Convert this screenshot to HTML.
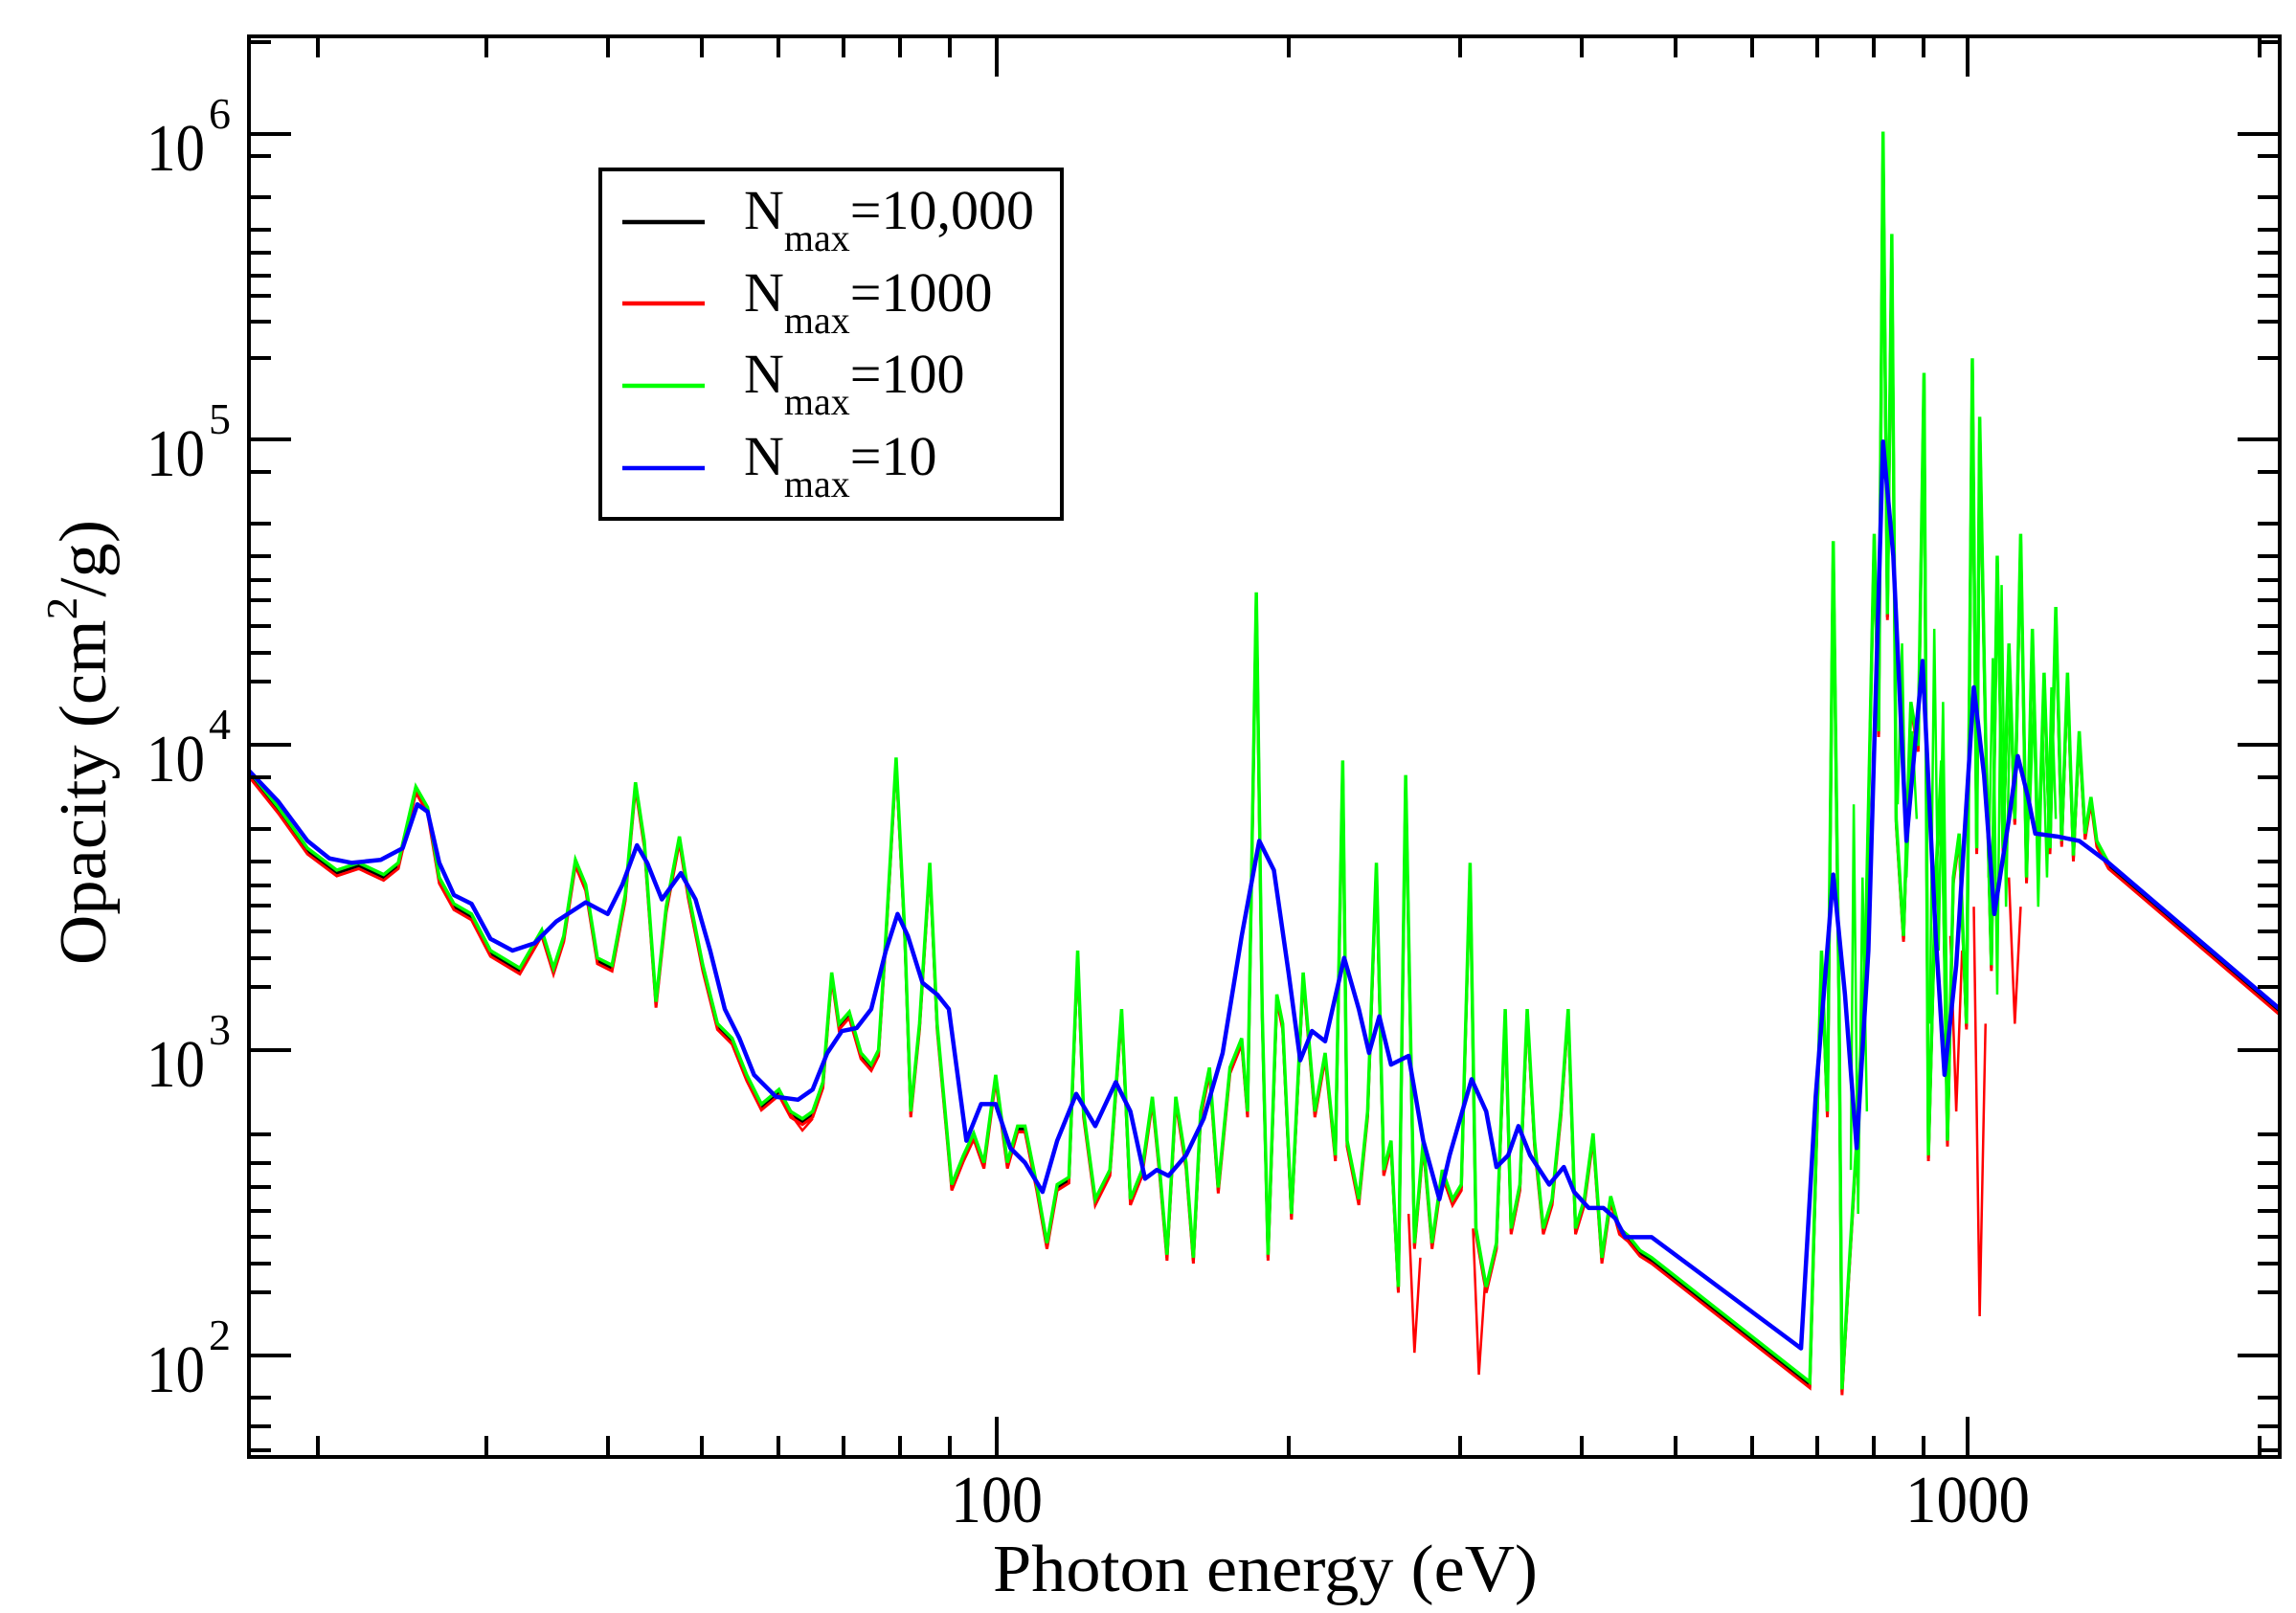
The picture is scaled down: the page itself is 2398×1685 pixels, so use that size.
<!DOCTYPE html>
<html><head><meta charset="utf-8"><style>
html,body{margin:0;padding:0;background:#fff;}
svg{display:block;}
text{font-family:"Liberation Serif",serif;fill:#000;}
</style></head><body>
<svg width="2398" height="1685" viewBox="0 0 2398 1685" xmlns="http://www.w3.org/2000/svg">
<defs>
<polyline id="g" fill="none" vector-effect="non-scaling-stroke" points="170,527 190,552 210,580 230,595 245,590 262,598 272,590 284,538 292,552 300,600 310,618 322,625 335,650 355,662 370,636 378,662 385,640 393,588 400,605 408,655 418,660 427,612 434,535 440,575 448,685 455,620 464,572 470,610 480,660 490,700 500,710 510,735 520,755 532,745 540,760 548,765 555,760 562,740 568,665 573,700 580,692 588,720 595,728 600,718 605,640 612,518 618,640 622,760 628,700 635,590 640,700 650,810 658,790 665,775 672,795 680,735 688,795 695,770 700,770 708,810 715,850 722,810 730,805 736,650 740,760 748,820 758,800 766,690 772,820 780,800 787,750 792,800 797,858 803,750 810,795 815,860 820,760 826,730 832,812 840,730 848,710 852,760 858,405 862,690 866,858 872,680 876,700 882,830 890,665 898,760 905,720 912,790 917,520 920,780 928,820 934,760 940,590 945,800 950,780 955,880 960,530 966,850 972,780 978,850 985,800 992,820 998,810 1004,590 1008,840 1015,880 1022,850 1028,690 1032,840 1038,810 1043,690 1048,780 1054,840 1060,820 1066,760 1071,690 1076,840 1082,820 1088,775 1094,860 1100,818 1106,840 1112,845 1120,855 1128,860 1236,945 1240,800 1244,650 1248,760 1252,370 1256,690 1258,950 1262,880 1268,780 1274,650 1280,365 1283,500 1286,90 1289,420 1292,160 1295,560 1300,640 1305,480 1310,510 1314,255 1317,790 1322,600 1326,520 1330,780 1334,600 1338,570 1343,700 1347,245 1350,580 1352,285 1356,500 1360,660 1364,380 1368,580 1372,440 1376,560 1380,365 1384,600 1388,430 1392,590 1396,460 1400,580 1404,415 1408,575 1412,460 1416,585 1420,500 1424,570 1428,545 1432,575 1440,590 1557,690"/>
</defs>
<g transform="scale(1.5293,1.5277)">
<use href="#g" stroke="#000" stroke-width="3" transform="translate(0,2)"/>
<use href="#g" stroke="#f00" stroke-width="3" transform="translate(0,4)"/>
<g fill="none" stroke="#f00" stroke-width="2.5">
<polyline vector-effect="non-scaling-stroke" points="540,762 548,773 555,765"/>
<polyline vector-effect="non-scaling-stroke" points="962,830 966,925 970,860"/>
<polyline vector-effect="non-scaling-stroke" points="1006,840 1010,940 1014,880"/>
<polyline vector-effect="non-scaling-stroke" points="1348,620 1352,900 1356,700"/>
<polyline vector-effect="non-scaling-stroke" points="1372,600 1376,700 1380,620"/>
<polyline vector-effect="non-scaling-stroke" points="1332,640 1336,760 1340,650"/>
</g>
<use href="#g" stroke="#0f0" stroke-width="3.5"/>
<g fill="none" stroke="#0f0" stroke-width="2.5">
<polyline vector-effect="non-scaling-stroke" points="1296,550 1299,440 1302,600 1306,500 1309,560"/>
<polyline vector-effect="non-scaling-stroke" points="1318,700 1321,430 1324,650 1327,480 1330,720"/>
<polyline vector-effect="non-scaling-stroke" points="1358,600 1361,450 1364,680 1367,400 1370,620 1373,470"/>
<polyline vector-effect="non-scaling-stroke" points="1386,560 1389,480 1392,620 1395,500 1398,600 1401,470 1404,560"/>
<polyline vector-effect="non-scaling-stroke" points="1264,800 1266,550 1269,830 1272,600 1275,760"/>
</g>
<polyline fill="none" stroke="#00f" stroke-width="4.5" vector-effect="non-scaling-stroke" stroke-linejoin="round" points="170,527 190,548 210,575 225,587 240,590 260,588 275,580 285,550 292,555 300,590 310,612 322,618 335,642 350,650 365,645 380,630 400,617 415,625 425,605 435,578 442,590 452,615 465,597 475,615 485,650 495,690 505,710 515,735 530,750 545,752 555,745 565,720 575,705 585,703 595,690 605,650 613,625 620,640 630,672 640,680 648,690 660,780 670,755 680,755 690,785 700,795 712,815 722,780 735,748 748,770 762,740 772,760 782,806 790,800 798,804 810,790 822,765 835,720 848,640 860,575 870,595 880,665 888,725 896,705 905,712 918,655 928,690 935,720 942,695 950,728 962,722 972,780 983,820 990,790 1005,738 1015,760 1022,798 1030,790 1037,770 1045,790 1058,810 1068,798 1075,815 1085,826 1095,826 1103,833 1110,846 1128,846 1230,922 1240,750 1252,598 1260,680 1268,785 1276,650 1286,302 1293,380 1302,575 1313,452 1322,640 1328,735 1336,660 1348,470 1355,530 1362,625 1372,560 1378,517 1385,545 1390,570 1405,572 1420,575 1440,590 1557,690"/>
</g>
<rect x="0" y="0" width="2398" height="38" fill="#fff"/>
<rect x="0" y="1522" width="2398" height="163" fill="#fff"/>
<rect x="0" y="0" width="260" height="1685" fill="#fff"/>
<rect x="2381" y="0" width="17" height="1685" fill="#fff"/>
<rect x="260" y="38" width="2121" height="1484" fill="none" stroke="#000" stroke-width="4"/>
<g stroke="#000" stroke-width="4">
<path d="M1041,1522v-42M2055,1522v-42M1041,38v42M2055,38v42"/>
<path d="M332,1522v-22M508,1522v-22M635,1522v-22M733,1522v-22M813,1522v-22M881,1522v-22M940,1522v-22M992,1522v-22M1346,1522v-22M1525,1522v-22M1652,1522v-22M1750,1522v-22M1830,1522v-22M1898,1522v-22M1957,1522v-22M2009,1522v-22M2360,1522v-22
M332,38v22M508,38v22M635,38v22M733,38v22M813,38v22M881,38v22M940,38v22M992,38v22M1346,38v22M1525,38v22M1652,38v22M1750,38v22M1830,38v22M1898,38v22M1957,38v22M2009,38v22M2360,38v22"/>
<path d="M260,140h44M260,459h44M260,778h44M260,1097h44M260,1416h44M2381,140h-44M2381,459h-44M2381,778h-44M2381,1097h-44M2381,1416h-44"/>
<path d="M260,44h23M260,1350h23M260,1320h23M260,1292h23M260,1265h23M260,1240h23M260,1215h23M260,1185h23M260,1490h23M260,1460h23M260,1515h23
M260,374h23M260,336h23M260,309h23M260,288h23M260,264h23M260,240h23M260,206h23M260,163h23
M260,1031h23M260,1001h23M260,973h23M260,946h23M260,925h23M260,900h23M260,866h23M260,812h23
M260,712h23M260,682h23M260,654h23M260,627h23M260,606h23M260,581h23M260,547h23M260,493h23
M2381,44h-23M2381,1350h-23M2381,1320h-23M2381,1292h-23M2381,1265h-23M2381,1240h-23M2381,1215h-23M2381,1185h-23M2381,1490h-23M2381,1460h-23M2381,1515h-23
M2381,374h-23M2381,336h-23M2381,309h-23M2381,288h-23M2381,264h-23M2381,240h-23M2381,206h-23M2381,163h-23
M2381,1031h-23M2381,1001h-23M2381,973h-23M2381,946h-23M2381,925h-23M2381,900h-23M2381,866h-23M2381,812h-23
M2381,712h-23M2381,682h-23M2381,654h-23M2381,627h-23M2381,606h-23M2381,581h-23M2381,547h-23M2381,493h-23"/>
</g>
<g font-size="70">
<text x="153" y="178" textLength="61" lengthAdjust="spacingAndGlyphs">10</text><text x="218" y="134" font-size="46">6</text>
<text x="153" y="497" textLength="61" lengthAdjust="spacingAndGlyphs">10</text><text x="218" y="453" font-size="46">5</text>
<text x="153" y="816" textLength="61" lengthAdjust="spacingAndGlyphs">10</text><text x="218" y="772" font-size="46">4</text>
<text x="153" y="1135" textLength="61" lengthAdjust="spacingAndGlyphs">10</text><text x="218" y="1091" font-size="46">3</text>
<text x="153" y="1454" textLength="61" lengthAdjust="spacingAndGlyphs">10</text><text x="218" y="1410" font-size="46">2</text>
</g>
<g font-size="70" text-anchor="middle">
<text x="1041" y="1590" textLength="96" lengthAdjust="spacingAndGlyphs">100</text>
<text x="2055" y="1590" textLength="130" lengthAdjust="spacingAndGlyphs">1000</text>
</g>
<text x="1037" y="1662" font-size="70" textLength="569" lengthAdjust="spacingAndGlyphs">Photon energy (eV)</text>
<text transform="translate(110,1008) rotate(-90)" font-size="70" textLength="465" lengthAdjust="spacingAndGlyphs">Opacity (cm<tspan dy="-30" font-size="46">2</tspan><tspan dy="30">/g)</tspan></text>
<rect x="627" y="177" width="482" height="365" fill="#fff" stroke="#000" stroke-width="4"/>
<g stroke-width="4.5">
<path d="M650,232h86" stroke="#000"/>
<path d="M650,317h86" stroke="#f00"/>
<path d="M650,403h86" stroke="#0f0"/>
<path d="M650,489h86" stroke="#00f"/>
</g>
<g font-size="58">
<text x="777" y="239">N<tspan font-size="40" dy="23">max</tspan><tspan dy="-23">=10,000</tspan></text>
<text x="777" y="325">N<tspan font-size="40" dy="23">max</tspan><tspan dy="-23">=1000</tspan></text>
<text x="777" y="410">N<tspan font-size="40" dy="23">max</tspan><tspan dy="-23">=100</tspan></text>
<text x="777" y="496">N<tspan font-size="40" dy="23">max</tspan><tspan dy="-23">=10</tspan></text>
</g>
</svg>
</body></html>
